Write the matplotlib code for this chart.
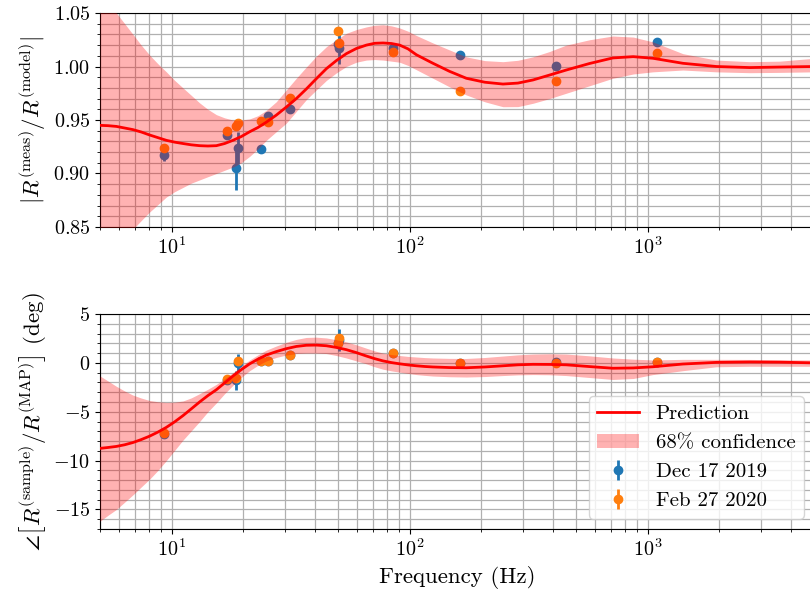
import matplotlib
matplotlib.use("Agg")
import matplotlib.pyplot as plt
from matplotlib.ticker import MultipleLocator

plt.rcParams['font.family'] = 'serif'
plt.rcParams['font.serif'] = ['cmr10']
plt.rcParams['mathtext.fontset'] = 'cm'
plt.rcParams['axes.formatter.use_mathtext'] = True

# ---------------- model curves (frequency grid, Hz) ----------------
freq = [5.0, 5.4, 5.86, 6.35, 6.88, 7.45, 8.08, 8.76, 9.50, 10.3,
        11.16, 12.1, 13.11, 14.2, 15.41, 16.7, 18.09, 19.6, 21.27, 23.05,
        25.0, 27.5, 30.3, 33.4, 36.8, 40.5, 44.7, 49.2, 54.2, 59.7,
        65.8, 71.3, 77.3, 83.8, 90.8, 98.4, 106.7, 115.6, 125.3, 147,
        173, 207, 246.6, 285, 329.6, 387, 455, 570, 714, 870,
        1052, 1406, 1944, 2687, 3600, 5000]

mag_pred = [0.945, 0.9447, 0.944, 0.9425, 0.941, 0.9388, 0.936, 0.9335, 0.931, 0.9293,
            0.928, 0.9268, 0.926, 0.9257, 0.926, 0.928, 0.931, 0.9345, 0.939, 0.943,
            0.948, 0.9545, 0.962, 0.970, 0.979, 0.9885, 0.998, 1.0055, 1.012, 1.0168,
            1.020, 1.0217, 1.022, 1.0215, 1.020, 1.0165, 1.011, 1.007, 1.003, 0.9955,
            0.989, 0.9853, 0.9836, 0.9845, 0.9874, 0.992, 0.9967, 1.0028, 1.008, 1.0092,
            1.0077, 1.003, 1.000, 0.999, 0.9995, 1.000]
mag_upper = [1.068, 1.059, 1.050, 1.040, 1.030, 1.020, 1.0107, 1.0025, 0.995, 0.987,
             0.980, 0.973, 0.966, 0.960, 0.955, 0.952, 0.950, 0.950, 0.951, 0.954,
             0.959, 0.967, 0.978, 0.989, 0.9995, 1.0095, 1.0185, 1.025, 1.031, 1.0345,
             1.037, 1.0385, 1.039, 1.038, 1.036, 1.033, 1.029, 1.0255, 1.022, 1.0155,
             1.009, 1.0055, 1.0045, 1.0058, 1.009, 1.014, 1.020, 1.025, 1.0285, 1.0275,
             1.023, 1.012, 1.006, 1.0045, 1.005, 1.0077]
mag_lower = [0.825, 0.830, 0.836, 0.842, 0.848, 0.856, 0.864, 0.871, 0.878, 0.883,
             0.887, 0.891, 0.894, 0.897, 0.900, 0.903, 0.906, 0.910, 0.916, 0.923,
             0.931, 0.939, 0.947, 0.958, 0.969, 0.978, 0.987, 0.994, 1.000, 1.004,
             1.006, 1.0065, 1.006, 1.005, 1.004, 1.001, 0.997, 0.993, 0.989, 0.981,
             0.9734, 0.9670, 0.9624, 0.9625, 0.9656, 0.970, 0.975, 0.982, 0.989, 0.993,
             0.995, 0.9967, 0.995, 0.9942, 0.9945, 0.995]

ph_pred = [-8.75, -8.66, -8.55, -8.38, -8.15, -7.85, -7.5, -7.08, -6.6, -6.03,
           -5.4, -4.7, -4.0, -3.35, -2.75, -2.05, -1.35, -0.7, -0.1, 0.38,
           0.8, 1.15, 1.45, 1.68, 1.8, 1.82, 1.75, 1.58, 1.35, 1.05,
           0.7, 0.43, 0.2, 0.03, -0.1, -0.21, -0.3, -0.37, -0.42, -0.48,
           -0.5, -0.42, -0.3, -0.2, -0.15, -0.16, -0.2, -0.38, -0.55, -0.52,
           -0.4, -0.12, 0.05, 0.09, 0.07, 0.0]
ph_upper = [-1.34, -1.85, -2.4, -2.88, -3.3, -3.6, -3.85, -3.98, -4.05, -4.02,
            -3.9, -3.58, -3.15, -2.7, -2.2, -1.62, -1.0, -0.35, 0.3, 0.82,
            1.3, 1.72, 2.1, 2.4, 2.6, 2.63, 2.55, 2.37, 2.15, 1.85,
            1.5, 1.22, 1.0, 0.85, 0.75, 0.66, 0.6, 0.54, 0.5, 0.46,
            0.45, 0.55, 0.7, 0.82, 0.9, 0.93, 0.9, 0.72, 0.5, 0.38,
            0.3, 0.36, 0.36, 0.35, 0.32, 0.3]
ph_lower = [-16.2, -15.6, -15.0, -14.25, -13.5, -12.7, -11.9, -11.0, -10.0, -8.95,
            -7.9, -6.95, -6.0, -5.0, -4.1, -3.15, -2.3, -1.5, -0.8, -0.25,
            0.2, 0.55, 0.8, 0.95, 1.0, 1.0, 0.95, 0.75, 0.5, 0.2,
            -0.1, -0.4, -0.65, -0.82, -0.95, -1.08, -1.2, -1.28, -1.35, -1.42,
            -1.45, -1.4, -1.3, -1.23, -1.2, -1.22, -1.3, -1.5, -1.7, -1.6,
            -1.2, -0.8, -0.4, -0.35, -0.35, -0.35]

# ---------------- measurements ----------------
meas_freq = [9.3, 17.1, 18.7, 19.0, 23.7, 25.4, 31.3, 49.9, 50.3, 84.8, 163, 413, 1094]

dec_mag = [0.9173, 0.9360, 0.9050, 0.9235, 0.9225, 0.9540, 0.9603, 1.0210, 1.0170, 1.0176, 1.0107, 1.0005, 1.0226]
dec_mag_err = [0.006, 0.002, 0.020, 0.015, 0.002, 0.002, 0.002, 0.004, 0.015, 0.002, 0.002, 0.002, 0.002]
feb_mag = [0.9235, 0.9397, 0.9447, 0.9469, 0.9490, 0.9484, 0.9709, 1.0335, 1.0217, 1.0132, 0.9771, 0.9867, 1.0123]
feb_mag_err = [0.003, 0.002, 0.002, 0.002, 0.002, 0.002, 0.002, 0.002, 0.002, 0.002, 0.002, 0.002, 0.002]

dec_ph = [-7.3, -1.8, -1.8, 0.0, 0.15, 0.2, 0.8, 2.0, 2.3, 1.0, -0.05, 0.05, 0.1]
dec_ph_err = [0.3, 0.2, 0.95, 0.9, 0.2, 0.2, 0.2, 0.3, 1.13, 0.2, 0.2, 0.2, 0.2]
feb_ph = [-7.21, -1.68, -1.52, 0.16, 0.16, 0.22, 0.83, 2.0, 2.51, 0.98, -0.05, 0.02, 0.09]
feb_ph_err = [0.15] * len(meas_freq)

fig = plt.figure(figsize=(8.1, 5.96), dpi=100)
ax1 = fig.add_axes([100/810, 1-227/596, 714/810, 214/596])
ax2 = fig.add_axes([100/810, 1-529/596, 714/810, 215/596])

blue = '#1f77b4'
orange = '#ff7f0e'
TICK = 14.5
LAB = 16.5

def panel(ax, pred, lo, hi, d, de, f, fe):
    hd = ax.errorbar(meas_freq, d, yerr=de, fmt='o', color=blue, ms=6, elinewidth=2,
                     zorder=2, label='Dec 17 2019')
    hf = ax.errorbar(meas_freq, f, yerr=fe, fmt='o', color=orange, ms=6, elinewidth=2,
                     zorder=2, label='Feb 27 2020')
    hb = ax.fill_between(freq, lo, hi, color='red', alpha=0.3, lw=0, zorder=3,
                         label='68% confidence')
    hl, = ax.plot(freq, pred, color='red', lw=2, zorder=4, label='Prediction',
                  solid_joinstyle='round')
    ax.set_xscale('log')
    ax.set_xlim(5, 5000)
    ax.grid(True, which='both', color='#b0b0b0', lw=0.9)
    ax.tick_params(labelsize=TICK)
    return [hl, hb, hd, hf]

panel(ax1, mag_pred, mag_lower, mag_upper, dec_mag, dec_mag_err, feb_mag, feb_mag_err)
ax1.set_ylim(0.85, 1.05)
ax1.yaxis.set_major_locator(MultipleLocator(0.05))
ax1.yaxis.set_minor_locator(MultipleLocator(0.01))
ax1.set_ylabel(r'$|R^{(\mathrm{meas})}/R^{(\mathrm{model})}|$', fontsize=LAB)

handles = panel(ax2, ph_pred, ph_lower, ph_upper, dec_ph, dec_ph_err, feb_ph, feb_ph_err)
ax2.set_ylim(-17, 5)
ax2.yaxis.set_major_locator(MultipleLocator(5))
ax2.yaxis.set_minor_locator(MultipleLocator(1))
ax2.set_ylabel(r'$\angle\left[R^{(\mathrm{sample})}/R^{(\mathrm{MAP})}\right]$ (deg)', fontsize=LAB)
ax2.set_xlabel('Frequency (Hz)', fontsize=LAB)
ax2.legend(handles=handles, labels=['Prediction', '68% confidence', 'Dec 17 2019', 'Feb 27 2020'],
           loc='lower right', fontsize=15)

fig.savefig('out.png', dpi=100)
